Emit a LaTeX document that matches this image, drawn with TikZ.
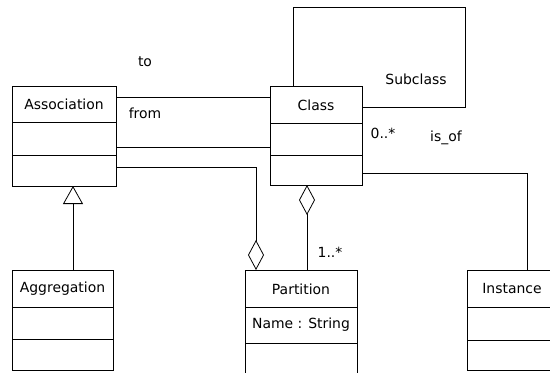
\documentclass[tikz,border=0pt]{standalone}
\usepackage{fontspec}
\setmainfont{DejaVu Sans}
\usetikzlibrary{arrows.meta,calc}
\begin{document}
\begin{tikzpicture}[x=1bp,y=-1bp,line width=0.8bp,
  box/.style={draw,anchor=north west,inner sep=0pt,outer sep=0pt},
  txt/.style={font=\fontsize{14}{16}\selectfont,inner sep=0pt},
  aggend/.style={-{Diamond[open,length=30bp,width=16bp]}},
  aggstart/.style={{Diamond[open,length=30bp,width=16bp]}-},
  genend/.style={-{Triangle[open,length=18bp,width=20bp]}}]
\useasboundingbox (0,0) rectangle (550,372);
\clip (0,0) rectangle (550,372);
% classes
\node[box,minimum width=104bp,minimum height=100bp] (assoc) at (12,86) {};
\draw ($(assoc.north west)+(0,36)$) -- ($(assoc.north east)+(0,36)$);
\draw ($(assoc.north west)+(0,69)$) -- ($(assoc.north east)+(0,69)$);
\node[txt] (assocT) at ($(assoc.north)+(0,18)$) {Association};

\node[box,minimum width=92bp,minimum height=99bp] (cls) at (270,86) {};
\draw ($(cls.north west)+(0,37)$) -- ($(cls.north east)+(0,37)$);
\draw ($(cls.north west)+(0,69)$) -- ($(cls.north east)+(0,69)$);
\node[txt] (clsT) at ($(cls.north)+(0,19)$) {Class};

\node[box,minimum width=101bp,minimum height=100bp] (agg) at (12,270) {};
\draw ($(agg.north west)+(0,37)$) -- ($(agg.north east)+(0,37)$);
\draw ($(agg.north west)+(0,69)$) -- ($(agg.north east)+(0,69)$);
\node[txt] (aggT) at ($(agg.north)+(0,19)$) {Aggregation};

\node[box,minimum width=112bp,minimum height=110bp] (part) at (245,270) {};
\draw ($(part.north west)+(0,37)$) -- ($(part.north east)+(0,37)$);
\draw ($(part.north west)+(0,73)$) -- ($(part.north east)+(0,73)$);
\node[txt] (partT) at ($(part.north)+(0,19)$) {Partition};
\node[txt] (partA) at ($(part.north)+(0,55)$) {Name : String};

\node[box,minimum width=90bp,minimum height=100bp] (inst) at (467,270) {};
\draw ($(inst.north west)+(0,37)$) -- ($(inst.north east)+(0,37)$);
\draw ($(inst.north west)+(0,70)$) -- ($(inst.north east)+(0,70)$);
\node[txt] (instT) at ($(inst.north)+(0,19)$) {Instance};

% connectors
\draw ($(assoc.north east)+(0,11)$) -- ($(cls.north west)+(0,11)$);
\draw ($(assoc.north east)+(0,61)$) -- ($(cls.north west)+(0,61)$);
\draw[aggend] ($(assoc.north east)+(0,81)$) -| ($(part.north west)+(11,0)$);
\draw[aggstart] ($(cls.south west)+(37,0)$) -- ($(part.north west)+(62,0)$);
\draw ($(cls.north east)+(0,87)$) -| ($(inst.north west)+(60,0)$);
\draw ($(cls.north west)+(23,0)$) -- ++(0,-79) -| ($(cls.north east)+(103,21)$) -- ($(cls.north east)+(0,21)$);
\draw[genend] ($(agg.north west)+(61,0)$) -- ($(assoc.south west)+(61,0)$);

% labels
\node[txt] (lto) at (145,62) {to};
\node[txt] (lfrom) at (145,113) {from};
\node[txt] (lsub) at (416,79) {Subclass};
\node[txt] (lzero) at (383,133) {0..*};
\node[txt] (lisof) at (446,138) {is\_of};
\node[txt] (lone) at (330,252) {1..*};
\end{tikzpicture}
\end{document}
